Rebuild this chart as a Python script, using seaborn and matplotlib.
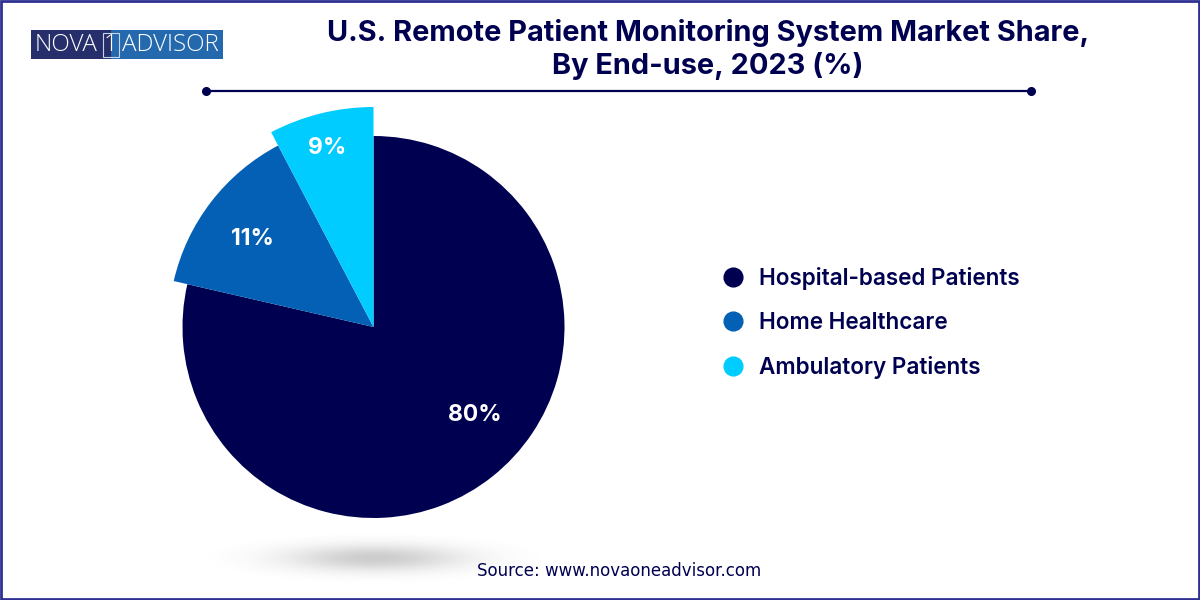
import numpy as np
import seaborn as sns
from matplotlib import pyplot as plt
from matplotlib.lines import Line2D
from matplotlib.patches import Rectangle

# %%
# data
categories = ['Hospital-based Patients', 'Home Healthcare', 'Ambulatory Patients']
drawn_shares = [78.6, 13.7, 7.7]  # the slices are not drawn to the printed numbers
share_labels = ['80%', '11%', '9%']
radii = [191, 205, 220]
title = 'U.S. Remote Patient Monitoring System Market Share,\nBy End-use, 2023 (%)'
source = 'Source: www.novaoneadvisor.com'

navy = '#000050'
colors = sns.color_palette(['#000050', '#0360B4', '#00CCFF'])

sns.set_theme(style='white')
plt.rcParams['font.family'] = ['Inter', 'DejaVu Sans']

# %%
fig = plt.figure(figsize=(12, 6), dpi=100)
ax = fig.add_axes([0, 0, 1, 1])
ax.set_axis_off()


def py(y):
    # picture y (from the top) to axes y
    return 600 - y


# shadow under the pie
xx, yy = np.meshgrid(np.linspace(-1, 1, 300), np.linspace(-1, 1, 80))
glow = np.exp(-(xx**2 + yy**2) * 4.5) - np.exp(-4.5)
glow = np.clip(glow, 0, None) * 0.27
rgba = np.zeros((80, 300, 4))
rgba[..., :3] = 0.25
rgba[..., 3] = glow
ax.imshow(rgba, extent=(190, 560, py(586), py(530)), interpolation='bilinear', zorder=1)

# pie, each slice has its own radius
wedges, _ = ax.pie(drawn_shares, colors=colors, startangle=90, counterclock=False,
                   center=(373.5, py(327)), radius=191, frame=True,
                   wedgeprops={'linewidth': 0})
for wedge, r in zip(wedges, radii):
    wedge.set_radius(r)
    wedge.set_zorder(2)

ax.set_xlim(0, 1200)
ax.set_ylim(0, 600)
ax.set_aspect('equal')
ax.set_axis_off()

label_pos = [(475, 415), (252, 239), (327, 148)]
for txt, (x, y) in zip(share_labels, label_pos):
    ax.text(x, py(y), txt, color='white', fontsize=16.5, fontweight='bold',
            ha='center', va='center', zorder=3)

# title and rule
ax.text(708, py(49.5), title, color=navy, fontsize=20.8, fontweight='bold', ha='center',
        va='center', linespacing=1.2)
ax.plot([206, 1031], [py(90.5), py(90.5)], color=navy, lw=1.6, zorder=2)
ax.plot([206, 1031], [py(90.5), py(90.5)], 'o', color=navy, ms=5.5, zorder=2)

# legend
handles = [Line2D([], [], ls='', marker='o', ms=13.5, color=c) for c in colors]
fig.legend(handles, categories, loc='center left', bbox_to_anchor=(0.5755, 0.4615),
           frameon=False, labelcolor=navy, handletextpad=0.12, labelspacing=0.99,
           prop={'family': 'Inter', 'size': 16.2, 'weight': 'semibold'})

ax.text(619, py(571), source, color=navy, fontsize=12, ha='center', va='center',
        family=['DejaVu Sans'])

# logo
ax.add_patch(Rectangle((31, py(59)), 80, 29, color='#262F6B', lw=0))
ax.add_patch(Rectangle((111, py(59)), 112, 29, color='#2468AE', lw=0))
ax.add_patch(Rectangle((102.5, py(56.5)), 16, 24, fc='none', ec='#C9D3E6', lw=0.8))
logo_font = dict(color='white', fontsize=17.4, va='center', family=['Open Sans', 'DejaVu Sans'],
                 fontweight='light')
ax.text(35, py(45), 'NOVA', ha='left', **logo_font)
ax.text(110.5, py(45), '1', ha='center', **logo_font)
ax.text(122.5, py(45), 'ADVISOR', ha='left', **logo_font)

# frame around the picture
ax.add_patch(Rectangle((1, 1), 1198, 598, fc='none', ec='#2E3192', lw=2, clip_on=False, zorder=5))

fig.savefig('out.png', dpi=100, facecolor='white')
